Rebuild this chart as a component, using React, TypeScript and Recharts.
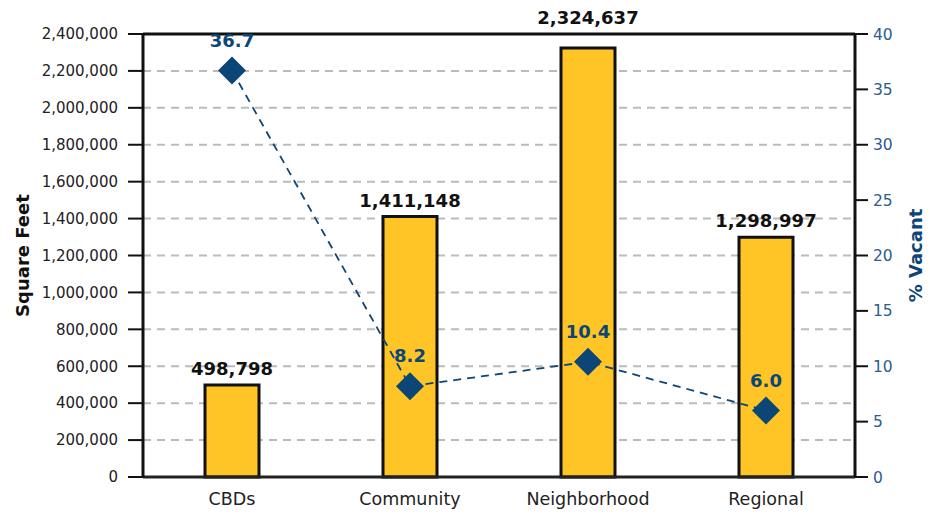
import React from 'react';
import {
  ComposedChart, Bar, Line, XAxis, YAxis, CartesianGrid, LabelList, ReferenceLine,
} from 'recharts';

// Data
const categories = ['CBDs', 'Community', 'Neighborhood', 'Regional'];
const squareFeet = [498798, 1411148, 2324637, 1298997];
const pctVacant = [36.7, 8.2, 10.4, 6.0];

const leftTicks = [0, 200000, 400000, 600000, 800000, 1000000, 1200000, 1400000, 1600000, 1800000, 2000000, 2200000, 2400000];
const rightTicks = [0, 5, 10, 15, 20, 25, 30, 35, 40];

const data = categories.map((name, i) => ({
  name,
  sqft: squareFeet[i],
  vacant: pctVacant[i],
}));

const FONT = '"DejaVu Sans", Verdana, sans-serif';
const BLUE = '#0B4677';
const GOLD = '#FFC425';
const PLOT_TOP = 34;

const Diamond = (props: any) => {
  const { cx, cy } = props;
  if (cx == null || cy == null) return null;
  const r = 14;
  return (
    <path
      d={`M${cx},${cy - r} L${cx + r},${cy} L${cx},${cy + r} L${cx - r},${cy} Z`}
      fill={BLUE}
    />
  );
};

const VacantLabel = (props: any) => {
  const { x, y, value } = props;
  return (
    <text x={x} y={y - 24} textAnchor="middle" fill={BLUE} fontSize={18} fontWeight="bold" fontFamily={FONT}>
      {Number(value).toFixed(1)}
    </text>
  );
};

// bar value label; pushed above the top border if it would sit on it
const SqftLabel = (props: any) => {
  const { x, y, width, value } = props;
  let base = y - 10;
  if (base - 14 < PLOT_TOP + 4) base = PLOT_TOP - 10;
  return (
    <text x={x + width / 2} y={base} textAnchor="middle" fill="#111" fontSize={18} fontWeight="bold" fontFamily={FONT}>
      {Number(value).toLocaleString('en-US')}
    </text>
  );
};

const App: React.FC = () => {
  return (
    <div style={{ position: 'absolute', left: 0, top: 0, background: '#fff' }}>
      <ComposedChart
        width={930}
        height={515}
        data={data}
        margin={{ top: PLOT_TOP, right: 0, left: 0, bottom: 0 }}
        barCategoryGap="35%"
      >
        <CartesianGrid
          yAxisId="left"
          vertical={false}
          stroke="#BBBBBB"
          strokeWidth={2}
          strokeDasharray="8 6"
        />
        <XAxis
          dataKey="name"
          height={38}
          tickLine={false}
          tickSize={0}
          tickMargin={16}
          axisLine={{ stroke: '#222', strokeWidth: 3 }}
          tick={{ fill: '#222', fontSize: 17.5, fontFamily: FONT }}
        />
        <YAxis
          yAxisId="left"
          orientation="left"
          width={143}
          domain={[0, 2400000]}
          ticks={leftTicks}
          interval={0}
          tickSize={15}
          tickMargin={10}
          tickFormatter={(v: number) => v.toLocaleString('en-US')}
          tickLine={{ stroke: '#111', strokeWidth: 2 }}
          axisLine={{ stroke: '#111', strokeWidth: 3 }}
          tick={{ fill: '#222', fontSize: 15, fontFamily: FONT }}
          label={{
            content: ({ viewBox }: any) => {
              const cy = viewBox.y + viewBox.height / 2;
              return (
                <text x={22} y={cy} transform={`rotate(-90, 22, ${cy})`} textAnchor="middle" dominantBaseline="central"
                  fill="#111" fontSize={18} fontWeight="bold" fontFamily={FONT}>
                  Square Feet
                </text>
              );
            },
          }}
        />
        <YAxis
          yAxisId="right"
          orientation="right"
          width={75}
          domain={[0, 40]}
          ticks={rightTicks}
          interval={0}
          tickSize={13}
          tickMargin={5}
          tickLine={{ stroke: '#111', strokeWidth: 2 }}
          axisLine={{ stroke: '#111', strokeWidth: 3 }}
          tick={{ fill: '#2A5D8C', fontSize: 15.5, fontFamily: FONT }}
          label={{
            content: ({ viewBox }: any) => {
              const cy = viewBox.y + viewBox.height / 2;
              return (
                <text x={915} y={cy} transform={`rotate(-90, 915, ${cy})`} textAnchor="middle" dominantBaseline="central"
                  fill={BLUE} fontSize={18} fontWeight="bold" fontFamily={FONT}>
                  % Vacant
                </text>
              );
            },
          }}
        />
        <ReferenceLine yAxisId="left" y={2400000} stroke="#111" strokeWidth={3} />
        <Bar
          yAxisId="left"
          dataKey="sqft"
          fill={GOLD}
          stroke="#111"
          strokeWidth={3}
          barSize={54}
          isAnimationActive={false}
        >
          <LabelList dataKey="sqft" content={<SqftLabel />} />
        </Bar>
        <Line
          yAxisId="right"
          dataKey="vacant"
          stroke={BLUE}
          strokeWidth={1.8}
          strokeDasharray="8 6"
          dot={<Diamond />}
          activeDot={false}
          isAnimationActive={false}
        >
          <LabelList dataKey="vacant" content={<VacantLabel />} />
        </Line>
      </ComposedChart>
    </div>
  );
};

export default App;
